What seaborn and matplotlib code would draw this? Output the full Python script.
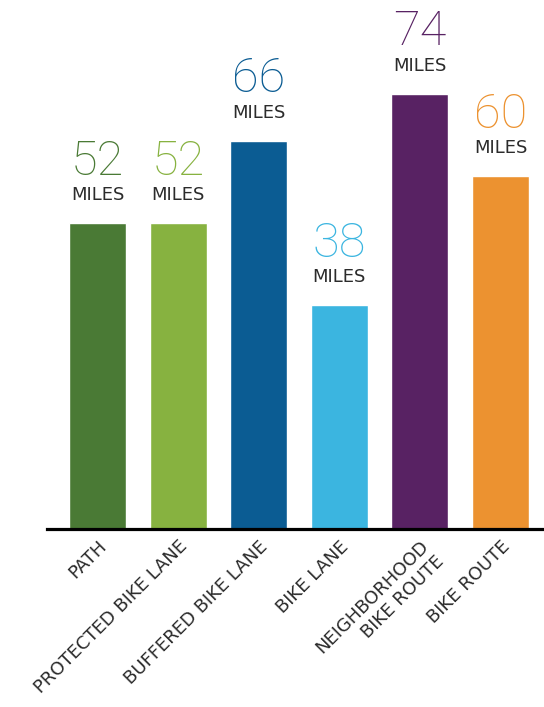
import matplotlib
matplotlib.use("Agg")
import matplotlib.pyplot as plt
import seaborn as sns
import pandas as pd

categories = ["PATH", "PROTECTED BIKE LANE", "BUFFERED BIKE LANE", "BIKE LANE",
              "NEIGHBORHOOD\nBIKE ROUTE", "BIKE ROUTE"]
miles = [52, 52, 66, 38, 74, 60]
colors = ["#4a7a35", "#87b240", "#0b5c93", "#3bb5e0", "#582263", "#ec9230"]

df = pd.DataFrame({"type": categories, "miles": miles})

sns.set_style("white")
plt.rcParams["font.family"] = ["DejaVu Sans"]

fig = plt.figure(figsize=(5.44, 7.07), dpi=100)
ax = fig.add_axes([47 / 544, 178 / 707, 497 / 544, 529 / 707])

sns.barplot(data=df, x="type", y="miles", hue="type", palette=colors,
            width=0.707, legend=False, saturation=1, ax=ax)

ax.set_xlim(-0.627, 5.54)
ax.set_ylim(0, 89.9)

# value labels above each bar
for i, (v, c) in enumerate(zip(miles, colors)):
    ax.text(i, v + 3.9, "MILES", ha="center", va="baseline", fontsize=13,
            color="#2b2b2b", clip_on=False)
    ax.text(i, v + 8.2, str(v), ha="center", va="baseline", fontsize=35,
            family=["Roboto", "DejaVu Sans"], fontweight="light", color=c,
            clip_on=False)

for s in ["top", "right", "left"]:
    ax.spines[s].set_visible(False)
ax.spines["bottom"].set_color("black")
ax.spines["bottom"].set_linewidth(2.3)

ax.set_yticks([])
ax.set_xlabel("")
ax.set_ylabel("")
ax.tick_params(axis="x", length=0, pad=6)
ax.set_xticks(range(len(categories)))
ax.set_xticklabels(categories, rotation=45, ha="right", rotation_mode="anchor",
                   fontsize=13, color="#2b2b2b")

fig.savefig("out.png", dpi=100)
